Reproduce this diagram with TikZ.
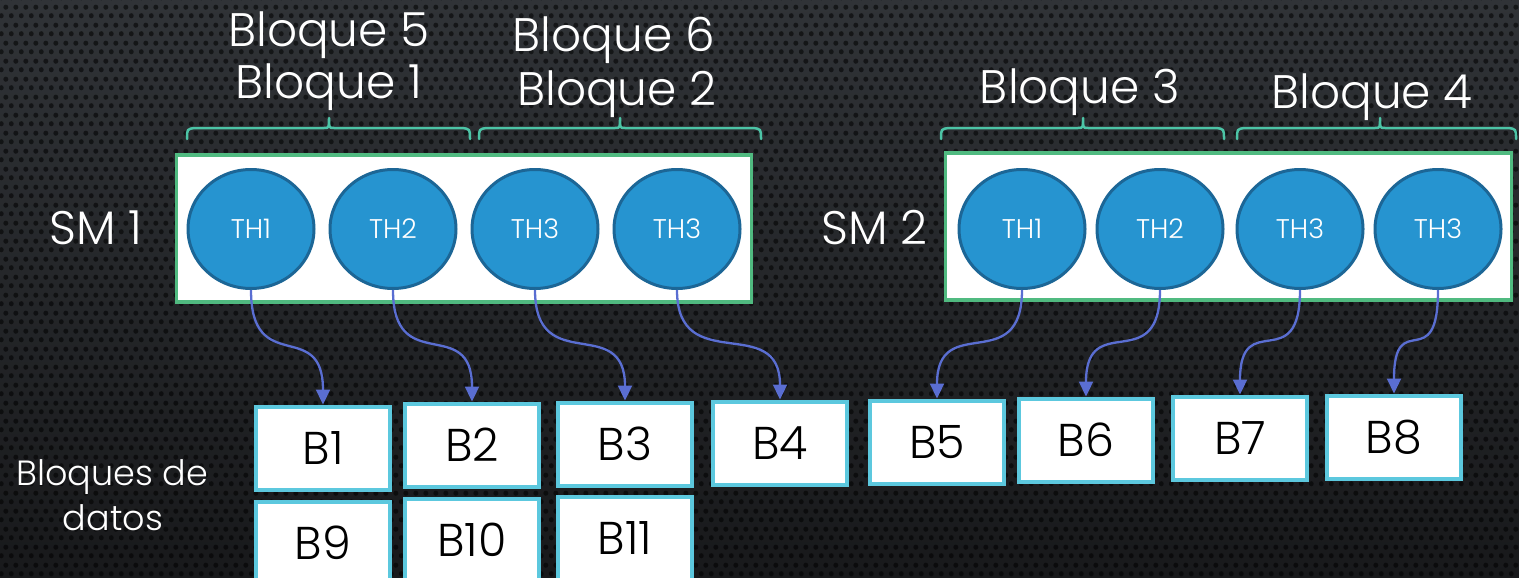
\documentclass[tikz,border=0pt]{standalone}
\usepackage{fontspec}
\IfFontExistsTF{Poppins Light}{\setmainfont{Poppins Light}}{\setmainfont{Poppins}}
\usetikzlibrary{shapes.geometric,arrows.meta,patterns.meta,calc}

\definecolor{bgtop}{RGB}{48,51,55}
\definecolor{bgbot}{RGB}{24,25,27}
\definecolor{thfill}{RGB}{38,148,208}
\definecolor{thline}{RGB}{28,102,150}
\definecolor{smline}{RGB}{80,186,128}
\definecolor{braceline}{RGB}{76,196,166}
\definecolor{dataline}{RGB}{92,200,222}
\definecolor{arrowline}{RGB}{90,110,210}

% perforated metal texture: staggered rows of holes
\tikzdeclarepattern{
  name=perforated,
  type=uncolored,
  bounding box={(0pt,0pt) and (10pt,18pt)},
  tile size={(10pt,18pt)},
  code={
    \fill (2.5pt,4.5pt) circle (2.7pt);
    \fill (7.5pt,13.5pt) circle (2.7pt);
  }
}

\begin{document}
\begin{tikzpicture}[x=1pt,y=-1pt,
  thread/.style={ellipse, draw=thline, line width=3pt, fill=thfill,
    minimum width=126pt, minimum height=119pt, inner sep=0pt,
    text=white, font=\fontsize{27}{27}\selectfont},
  smbox/.style={draw=smline, line width=3.5pt, fill=white,
    minimum height=147pt, inner sep=0pt},
  datablock/.style={draw=dataline, line width=4pt, fill=white,
    minimum width=134pt, minimum height=83pt, inner sep=0pt,
    font=\fontsize{46}{46}\selectfont},
  link/.style={draw=arrowline, line width=2.3pt,
    -{Triangle[length=15pt,width=14pt]}},
  bracket/.style={draw=braceline, line width=2.5pt, line cap=round, line join=round},
  title/.style={text=white, font=\fontsize{47}{47}\selectfont, anchor=base},
  caption/.style={text=white, font=\fontsize{35}{35}\selectfont, anchor=base}
]
\useasboundingbox (0,0) rectangle (1519,578);

% background
\shade[top color=bgtop, bottom color=bgbot] (0,0) rectangle (1519,578);
\fill[pattern=perforated, pattern color=black, fill opacity=0.55] (0,0) rectangle (1519,578);

% streaming multiprocessors
\node[smbox, minimum width=575pt] (sm1) at (464,228.5) {};
\node[smbox, minimum width=566pt] (sm2) at (1228.5,226.5) {};

\node[title, anchor=base west] (sm1lab) at (46,244) {SM 1};
\node[title, anchor=base west] (sm2lab) at (818,244) {SM 2};

% threads
\node[thread] (t1a) at (251,229) {TH1};
\node[thread] (t1b) at (393,229) {TH2};
\node[thread] (t1c) at (535,229) {TH3};
\node[thread] (t1d) at (677,229) {TH3};
\node[thread] (t2a) at (1022,229) {TH1};
\node[thread] (t2b) at (1160,229) {TH2};
\node[thread] (t2c) at (1300,229) {TH3};
\node[thread] (t2d) at (1438,229) {TH3};

% thread-block brackets
\foreach \a/\m/\b in {187/329/470, 479/620/761, 941/1083/1224, 1237/1380/1516}{
  \draw[bracket] (\a,139) .. controls (\a,129) .. (\a+8,128) -- (\m-5,128)
    .. controls (\m,128) .. (\m,118) .. controls (\m,128) .. (\m+5,128)
    -- (\b-8,128) .. controls (\b,129) .. (\b,139);
}

% block labels
\node[title] (l5) at (329,47) {Bloque 5};
\node[title] (l1) at (329,99) {Bloque 1};
\node[title] (l6) at (614,52) {Bloque 6};
\node[title] (l2) at (617,106) {Bloque 2};
\node[title] (l3) at (1080,103) {Bloque 3};
\node[title] (l4) at (1372,109) {Bloque 4};

% data blocks
\node[datablock] (b1) at (323,448) {B1};
\node[datablock] (b2) at (472,445) {B2};
\node[datablock] (b3) at (625,444) {B3};
\node[datablock] (b4) at (780,443) {B4};
\node[datablock] (b5) at (937,442) {B5};
\node[datablock] (b6) at (1086,440) {B6};
\node[datablock] (b7) at (1240,438) {B7};
\node[datablock] (b8) at (1394,437) {B8};
\node[datablock] (b9) at (323,543) {B9};
\node[datablock] (b10) at (472,540) {B10};
\node[datablock] (b11) at (625,538) {B11};

\node[caption] (cap1) at (112,485) {Bloques de};
\node[caption] (cap2) at (113,530) {datos};

% thread to data-block links
\foreach \t/\b in {t1a/b1, t1b/b2, t1c/b3, t1d/b4, t2a/b5, t2b/b6, t2c/b7, t2d/b8}{
  \draw[link] (\t.south) .. controls ($(\t.south)+(0,88)$) and ($(\b.north)+(0,-88)$) .. (\b.north);
}
\end{tikzpicture}
\end{document}
